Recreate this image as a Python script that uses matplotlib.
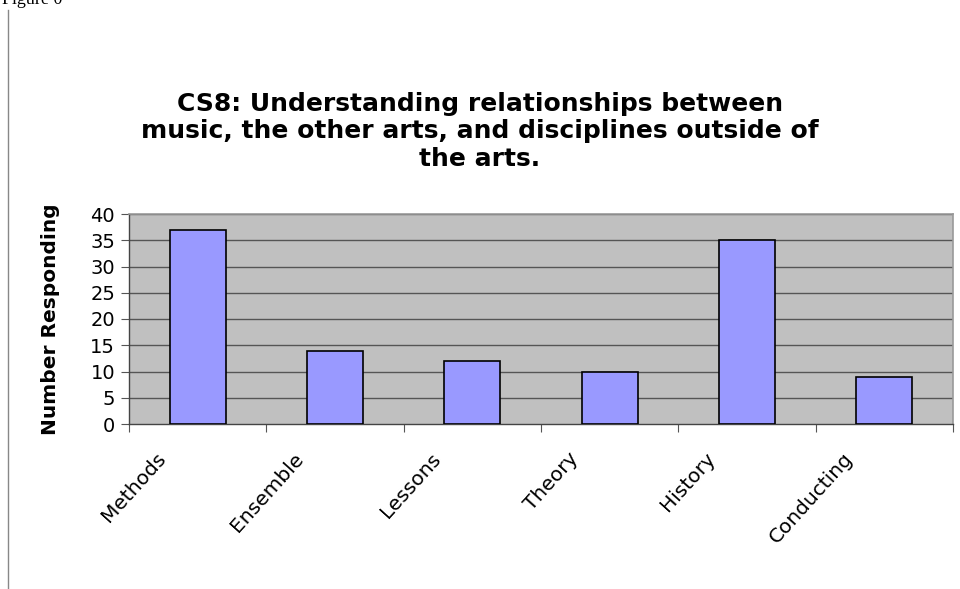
import matplotlib
matplotlib.use("Agg")
import matplotlib.pyplot as plt
import matplotlib.transforms as mtransforms

# data
categories = ["Methods", "Ensemble", "Lessons", "Theory", "History", "Conducting"]
responses = [37, 14, 12, 10, 35, 9]
yticks = [0, 5, 10, 15, 20, 25, 30, 35, 40]

title = ("CS8: Understanding relationships between\n"
         "music, the other arts, and disciplines outside of\n"
         "the arts.")

plt.rcParams['font.family'] = ['DejaVu Sans']

fig = plt.figure(figsize=(9.6, 5.89), dpi=100)
W, H = 960, 589
# plot area in pixels: left 129, right 953, top 214, bottom 424
ax = fig.add_axes([129 / W, 1 - 424 / H, (953 - 129) / W, (424 - 214) / H])

x = list(range(len(categories)))
ax.bar(x, responses, width=0.41, color="#9999ff", edgecolor="black",
       linewidth=1.2, zorder=3)

ax.set_facecolor("#c0c0c0")
ax.set_xlim(-0.5, len(categories) - 0.5)
ax.set_ylim(0, 40)
ax.set_yticks(yticks)
ax.tick_params(axis='y', labelsize=14, length=6, width=0.8, color="#555555", pad=4)
for y in yticks[1:]:
    ax.axhline(y, color="#555555", linewidth=1.0, zorder=1)

# category ticks at boundaries, labels at centers
ax.set_xticks([i - 0.5 for i in range(len(categories) + 1)])
ax.set_xticklabels([])
ax.tick_params(axis='x', which='major', length=6, width=0.8, color="#555555")
ax.set_xticks(x, minor=True)
ax.set_xticklabels(categories, minor=True, rotation=48, ha='right',
                   rotation_mode='anchor', fontsize=14.5)
ax.tick_params(axis='x', which='minor', length=0, pad=0)
offset = mtransforms.ScaledTranslation(-0.42, -0.25, fig.dpi_scale_trans)
for lab in ax.get_xticklabels(minor=True):
    lab.set_transform(lab.get_transform() + offset)

for side in ['top', 'right']:
    ax.spines[side].set_color("#999999")
    ax.spines[side].set_linewidth(1.2)
for side in ['left', 'bottom']:
    ax.spines[side].set_color("#444444")
    ax.spines[side].set_linewidth(1.0)

ax.set_ylabel("Number Responding", fontsize=14.5, fontweight='bold', labelpad=22)

fig.text(480 / W, 1 - 92 / H, title, ha='center', va='top', fontsize=18,
         fontweight='bold', linespacing=1.18)

# partially visible caption and page edge from the source document
fig.text(2 / W, 1 - 0 / H, "Figure 0", ha='left', va='center',
         fontsize=13, family='Liberation Serif')
fig.add_artist(plt.Line2D([8 / W, 8 / W], [0, 1 - 10 / H], color="#888888",
                          linewidth=1.0, transform=fig.transFigure))

fig.savefig("out.png", dpi=100)
